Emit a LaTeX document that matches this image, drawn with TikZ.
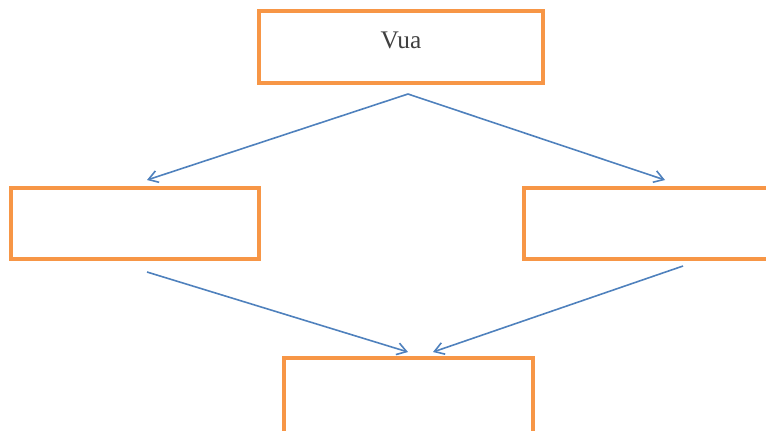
\documentclass[tikz,border=0pt]{standalone}
\usepackage{fontspec}
\setmainfont{Liberation Serif}
\usepackage{xcolor}
\usetikzlibrary{arrows.meta}
\definecolor{boxline}{HTML}{F79646}
\definecolor{link}{HTML}{4F81BD}
\definecolor{ink}{HTML}{404040}
\tikzset{
  box/.style={draw=boxline, line width=2.5pt, fill=white, inner sep=0pt},
  arr/.style={draw=link, line width=1.2pt, -{Straight Barb[length=7pt,width=9pt]}},
  lab/.style={text=ink, font=\fontsize{19}{22}\selectfont},
}
\begin{document}
\begin{tikzpicture}[x=0.75pt, y=-0.75pt]
  \useasboundingbox (0,0) rectangle (766,430);
  \clip (0,0) rectangle (766,430);
  % boxes
  \node[box, minimum width=284*0.75pt, minimum height=72*0.75pt] (king) at (401,47) {};
  \node[lab] (kingtext) at (401,40) {Vua};
  \node[box, minimum width=248*0.75pt, minimum height=71*0.75pt] (left) at (135,223.5) {};
  \node[box, minimum width=266*0.75pt, minimum height=71*0.75pt] (right) at (657,223.5) {};
  \node[box, minimum width=249*0.75pt, minimum height=82*0.75pt] (bottom) at (408.5,399) {};
  % arrow ends
  \coordinate (top) at (408,94);
  \coordinate (lin) at (147,180);
  \coordinate (rin) at (665,180);
  \coordinate (lout) at (147,272);
  \coordinate (rout) at (683,266);
  \coordinate (bl) at (408,352);
  \coordinate (br) at (433,352);
  \draw[arr] (top) -- (lin);
  \draw[arr] (top) -- (rin);
  \draw[arr] (lout) -- (bl);
  \draw[arr] (rout) -- (br);
\end{tikzpicture}
\end{document}
